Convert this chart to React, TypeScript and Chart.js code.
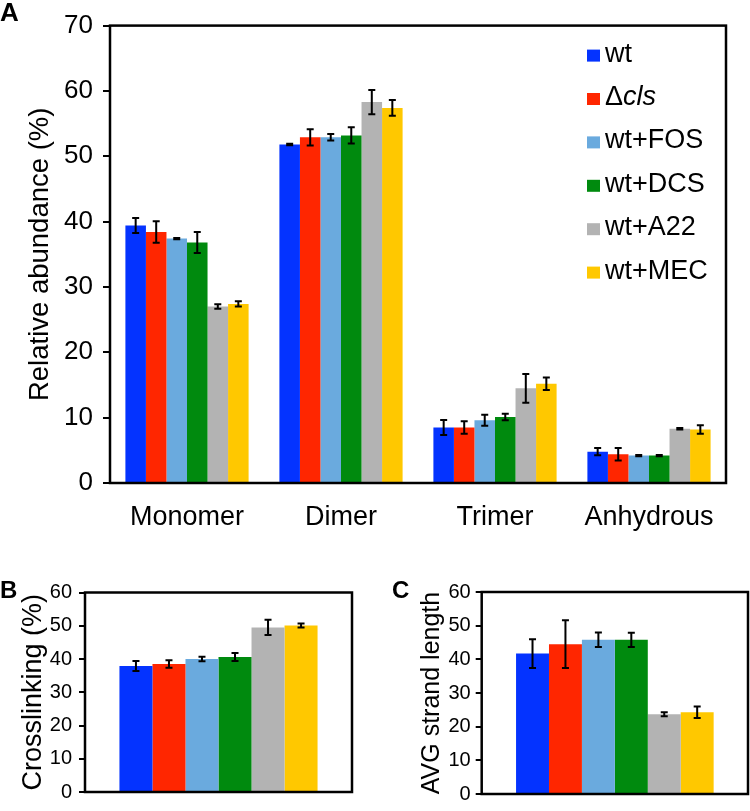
import React, { useEffect, useRef } from "react";
import { Chart, registerables } from "chart.js";

Chart.register(...registerables);

const FONT = "Arial, 'Liberation Sans', Helvetica, sans-serif";

// ---- data ----
const seriesLabels = ["wt", "Δcls", "wt+FOS", "wt+DCS", "wt+A22", "wt+MEC"];
const seriesColors = ["#0433ff", "#ff2600", "#6aaade", "#008a0e", "#b3b3b3", "#ffc800"];

const fractionCategories = ["Monomer", "Dimer", "Trimer", "Anhydrous"];
const wtFraction = [39.4, 51.8, 8.5, 4.8];
const clsFraction = [38.4, 52.9, 8.5, 4.4];
const fosFraction = [37.4, 52.9, 9.6, 4.2];
const dcsFraction = [36.8, 53.2, 10.1, 4.2];
const a22Fraction = [27.0, 58.3, 14.5, 8.3];
const mecFraction = [27.4, 57.4, 15.2, 8.2];
const wtFractionErr = [1.15, 0.1, 1.15, 0.55];
const clsFractionErr = [1.65, 1.25, 0.95, 0.95];
const fosFractionErr = [0.1, 0.5, 0.85, 0.1];
const dcsFractionErr = [1.6, 1.25, 0.5, 0.1];
const a22FractionErr = [0.35, 1.85, 2.2, 0.1];
const mecFractionErr = [0.4, 1.2, 0.95, 0.65];

const crosslinking = [37.9, 38.5, 40.0, 40.6, 49.5, 50.1];
const crosslinkingErr = [1.5, 1.1, 0.7, 1.2, 2.3, 0.6];
const strandLength = [41.7, 44.5, 45.8, 45.8, 23.7, 24.3];
const strandLengthErr = [4.3, 7.1, 2.15, 2.1, 0.6, 1.7];

const fractionAxis = { min: 0, max: 70, step: 10 };
const smallAxis = { min: 0, max: 60, step: 10 };

const fractionValues = [wtFraction, clsFraction, fosFraction, dcsFraction, a22Fraction, mecFraction];
const fractionErrors = [wtFractionErr, clsFractionErr, fosFractionErr, dcsFractionErr, a22FractionErr, mecFractionErr];

// ---- plugins ----
function makeErrorBarPlugin(cap: number, width: number) {
  return {
    id: "errorBars",
    afterDatasetsDraw(chart: any) {
      const ctx = chart.ctx;
      const y = chart.scales.y;
      ctx.save();
      ctx.strokeStyle = "#000";
      ctx.lineWidth = width;
      chart.data.datasets.forEach((ds: any, i: number) => {
        const meta = chart.getDatasetMeta(i);
        meta.data.forEach((bar: any, j: number) => {
          const v = ds.data[j];
          const e = ds.errors[j];
          const x = bar.x;
          const yt = y.getPixelForValue(v + e);
          const yb = y.getPixelForValue(v - e);
          ctx.beginPath();
          ctx.moveTo(x, yt);
          ctx.lineTo(x, yb);
          ctx.moveTo(x - cap, yt);
          ctx.lineTo(x + cap, yt);
          ctx.moveTo(x - cap, yb);
          ctx.lineTo(x + cap, yb);
          ctx.stroke();
        });
      });
      ctx.restore();
    },
  };
}

const boxPlugin = {
  id: "box",
  afterDraw(chart: any) {
    const { ctx, chartArea: a } = chart;
    ctx.save();
    ctx.strokeStyle = "#000";
    ctx.lineWidth = 2.5;
    ctx.strokeRect(a.left, a.top, a.right - a.left, a.bottom - a.top);
    ctx.restore();
  },
};

const LEGEND_SIZE = 27;
const legendPlugin = {
  id: "customLegend",
  afterDraw(chart: any) {
    const { ctx, chartArea: a } = chart;
    ctx.save();
    const x0 = a.right - 139;
    chart.data.datasets.forEach((ds: any, i: number) => {
      const base = a.top + 36 + i * 43.4;
      ctx.fillStyle = ds.backgroundColor;
      ctx.fillRect(x0, base - 12, 13, 12);
      ctx.fillStyle = "#000";
      ctx.textAlign = "left";
      ctx.textBaseline = "alphabetic";
      const label: string = ds.label;
      let x = x0 + 18;
      if (label.startsWith("Δ")) {
        ctx.font = `${LEGEND_SIZE}px ${FONT}`;
        ctx.fillText("Δ", x, base);
        x += ctx.measureText("Δ").width;
        ctx.font = `italic ${LEGEND_SIZE}px ${FONT}`;
        ctx.fillText(label.slice(1), x, base);
      } else {
        ctx.font = `${LEGEND_SIZE}px ${FONT}`;
        ctx.fillText(label, x, base);
      }
    });
    ctx.restore();
  },
};

function yAxis(range: any, title: string, opts: any) {
  return {
    min: range.min,
    max: range.max,
    ticks: {
      stepSize: range.step,
      font: { family: FONT, size: opts.tickSize },
      color: "#000",
      padding: opts.tickPad,
    },
    grid: {
      display: true,
      drawOnChartArea: false,
      drawTicks: true,
      tickLength: opts.tickLen,
      color: "#000",
      lineWidth: 2,
    },
    border: { display: false },
    title: {
      display: true,
      text: title,
      color: "#000",
      font: { family: FONT, size: opts.titleSize },
      padding: { top: opts.titlePad, bottom: 0 },
    },
    afterFit(s: any) {
      s.width = opts.width;
    },
  };
}

function FractionChart() {
  const ref = useRef<HTMLCanvasElement>(null);
  useEffect(() => {
    const chart = new Chart(ref.current as HTMLCanvasElement, {
      type: "bar",
      data: {
        labels: fractionCategories,
        datasets: seriesLabels.map((label, i) => ({
          label,
          data: fractionValues[i],
          errors: fractionErrors[i],
          backgroundColor: seriesColors[i],
          borderWidth: 0,
          categoryPercentage: 0.8,
          barPercentage: 1.0,
        })) as any,
      },
      options: {
        responsive: false,
        animation: false,
        layout: { padding: { top: 13, right: 24, left: 0, bottom: 0 } },
        plugins: { legend: { display: false }, tooltip: { enabled: false } },
        scales: {
          x: {
            ticks: { font: { family: FONT, size: 27 }, color: "#000", padding: 10 },
            grid: { display: false },
            border: { display: false },
            afterFit(s: any) {
              s.height = 62;
            },
          },
          y: yAxis(fractionAxis, "Relative abundance (%)", {
            tickSize: 26,
            tickPad: 10,
            tickLen: 7,
            titleSize: 27.5,
            titlePad: 24,
            width: 110,
          }),
        } as any,
      },
      plugins: [makeErrorBarPlugin(3.5, 2), boxPlugin, legendPlugin],
    });
    return () => chart.destroy();
  }, []);
  return (
    <canvas
      ref={ref}
      width={750}
      height={545}
      style={{ position: "absolute", left: 0, top: 0, width: 750, height: 545 }}
    />
  );
}

function SmallChart(props: {
  values: number[];
  errors: number[];
  title: string;
  left: number;
  yWidth: number;
  padRight: number;
  padTop: number;
  titleSize: number;
  titlePad: number;
  tickPad: number;
}) {
  const ref = useRef<HTMLCanvasElement>(null);
  useEffect(() => {
    const chart = new Chart(ref.current as HTMLCanvasElement, {
      type: "bar",
      data: {
        labels: [""],
        datasets: seriesLabels.map((label, i) => ({
          label,
          data: [props.values[i]],
          errors: [props.errors[i]],
          backgroundColor: seriesColors[i],
          borderWidth: 0,
          categoryPercentage: 0.742,
          barPercentage: 1.0,
        })) as any,
      },
      options: {
        responsive: false,
        animation: false,
        layout: { padding: { top: props.padTop, right: props.padRight, left: 0, bottom: 0 } },
        plugins: { legend: { display: false }, tooltip: { enabled: false } },
        scales: {
          x: {
            ticks: { display: false },
            grid: { display: false },
            border: { display: false },
            afterFit(s: any) {
              s.height = 9.5;
            },
          },
          y: yAxis(smallAxis, props.title, {
            tickSize: 20,
            tickPad: props.tickPad,
            tickLen: 6,
            titleSize: props.titleSize,
            titlePad: props.titlePad,
            width: props.yWidth,
          }),
        } as any,
      },
      plugins: [makeErrorBarPlugin(3.5, 2), boxPlugin],
    });
    return () => chart.destroy();
  }, []);
  return (
    <canvas
      ref={ref}
      width={375}
      height={251}
      style={{ position: "absolute", left: props.left, top: 560, width: 375, height: 251 }}
    />
  );
}

const letterStyle: any = {
  position: "absolute",
  fontFamily: FONT,
  fontWeight: "bold",
  lineHeight: 1,
  color: "#000",
};

export default function App() {
  return (
    <div
      style={{
        position: "absolute",
        left: 0,
        top: 0,
        width: 750,
        height: 811,
        background: "#fff",
        overflow: "hidden",
      }}
    >
      <FractionChart />
      <SmallChart
        values={crosslinking}
        errors={crosslinkingErr}
        title="Crosslinking (%)"
        left={0}
        yWidth={85}
        padRight={23}
        padTop={32.5}
        titleSize={27}
        titlePad={17}
        tickPad={7}
      />
      <SmallChart
        values={strandLength}
        errors={strandLengthErr}
        title="AVG strand length"
        left={375}
        yWidth={106.7}
        padRight={2}
        padTop={32}
        titleSize={25}
        titlePad={42}
        tickPad={5}
      />
      <div style={{ ...letterStyle, left: 0, top: -1, fontSize: 26 }}>A</div>
      <div style={{ ...letterStyle, left: 0, top: 578, fontSize: 24 }}>B</div>
      <div style={{ ...letterStyle, left: 392, top: 578, fontSize: 24 }}>C</div>
    </div>
  );
}
